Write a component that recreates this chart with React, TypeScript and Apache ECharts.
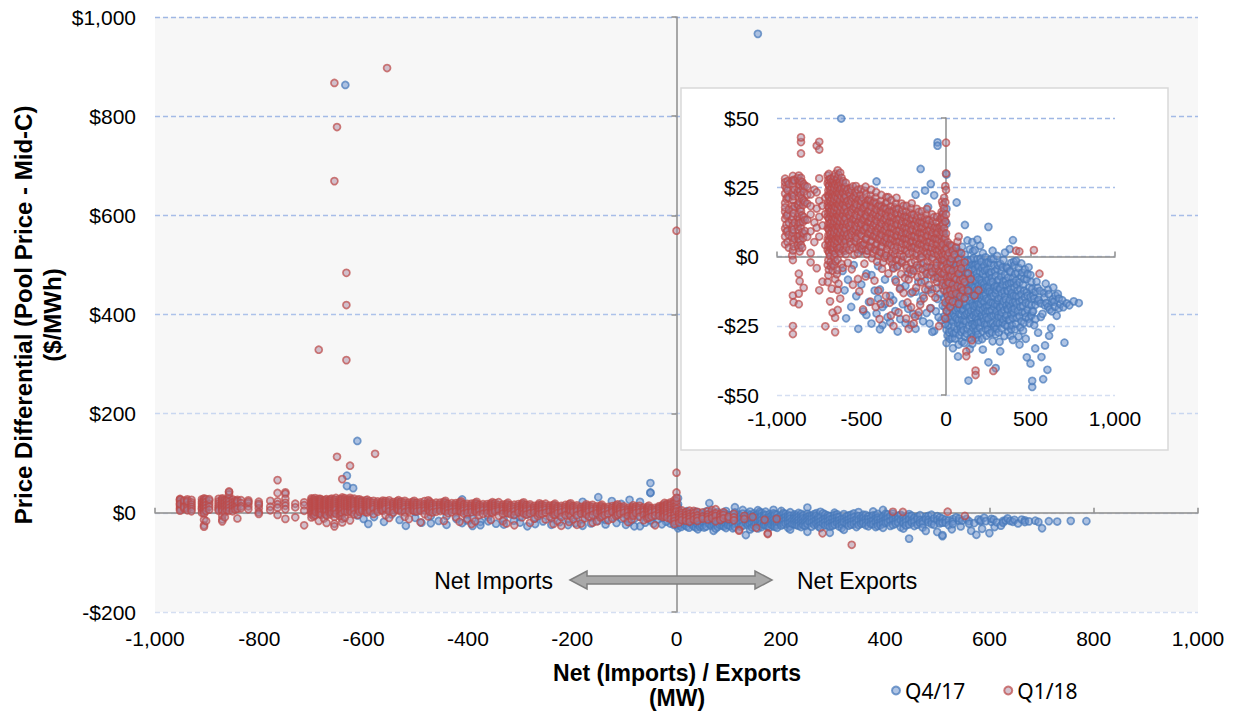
import React, { useEffect, useRef } from "react";
import * as echarts from "echarts";

// ---- Axis ticks ----
const mainXTicks = { min: -1000, max: 1000, interval: 200 };
const mainYTicks = { min: -200, max: 1000, interval: 200 };
const insetXTicks = { min: -1000, max: 1000, interval: 500 };
const insetYTicks = { min: -50, max: 50, interval: 25 };

const seriesNames = ["Q4/17", "Q1/18"];

// ---- Q4/17 (blue) : columns of [net MW, list of price differentials] ----
const q417Cols: [number, number[]][] = [
  [3, [-1.5, -8.2, -13.6, -19.9, -26.4, -31.2, 4.3, 11.8, 29.6, 17.2]],
  [7, [-5.8, -11.4, -17.2, -23.6]],
  [9, [-4.1, -10.7, -22.3, -28.5]],
  [16, [-2.7, -7.4, -15.8, -24.9, 0.8]],
  [20, [-9.4, -20.6, -27.4, 3.4]],
  [24, [-5.6, -12.1, -18.3, -29.8, -1.2, 153]],
  [29, [-15.2, -22.7, -8.7]],
  [33, [-3.3, -9.7, -16.5, -21.8, -26.9]],
  [37, [-12.6, -19.1, -29.4, 2.3]],
  [41, [0.4, -6.8, -13.2, -23.6, -33.1]],
  [45, [-3.8, -14.9, -20.8, -27.8]],
  [49, [-2.2, -10.4, -17.7, -25.3]],
  [53, [-8.9, -16.1, -21.7, -29.6]],
  [57, [2.9, -4.8, -12.9, -19.4, -27.6]],
  [63, [19.5, -8.1, -15.3, -22.4]],
  [67, [-3.1, -13.4, -26.3, 1.8]],
  [71, [-1.8, -6.3, -11.7, -18.8, -24.2, -36.1]],
  [75, [-9.9, -16.4, -22.9, -31.8]],
  [79, [1.6, -9.2, -14.6, -20.7, -28.3]],
  [83, [-5.7, -12.8, -18.6, -24.7]],
  [88, [-3.9, -7.7, -13.1, -17.5, -25.8]],
  [91, [-0.6, -9.1, -15.1, -21.2, -27.3]],
  [95, [3.5, -2.4, -10.9, -16.2, -22.9, -30.7]],
  [99, [-6.3, -13.8, -19.8, -24.9]],
  [103, [-5.1, -12.4, -19.1, -26.6]],
  [108, [-3.4, -10.6, -17.3, -23.1, -31.2]],
  [112, [11.4, 0.7, -7.9, -14.8, -21.3, -28.9]],
  [119, [-3.6, -9.8, -17.2, -23.5]],
  [123, [-5.9, -12.1, -20.6, -27.9]],
  [127, [5.8, -1.4, -11.6, -18.4, -26.1]],
  [133, [-6.2, -13.7, -20.1, -44.8]],
  [137, [-1.8, -8.3, -18.3, -24.9]],
  [141, [2.6, -4.3, -9.4, -15.9, -22.7, -33.4]],
  [145, [-12.3, -21.1, -29.6]],
  [149, [-1.1, -7.2, -12.8, -19.6, -27.3]],
  [152, [-4.8, -9.8, -15.1, -22.1]],
  [156, [5.2, -3.1, -10.2, -16.8, -24.4, -31.5, 966]],
  [160, [-11.1, -17.7, -25.8, 1.9]],
  [163, [-0.6, -6.9, -14.1, -21.2, -28.7]],
  [168, [-3.3, -8.1, -19.4, -24.3]],
  [171, [2.3, -4.6, -11.3, -17.9, -25.1]],
  [175, [-13.6, -20.7, -27.1]],
  [178, [-2.8, -8.8, -15.4, -22.1, -29.4]],
  [182, [-6.1, -11.9, -17.4, -23.9]],
  [186, [6.1, -0.9, -7.5, -13.9, -20.4, -26.8]],
  [189, [-2.9, -15.9, -22.8, -28.2]],
  [193, [-3.7, -10.6, -17.1, -23.8, -30.2]],
  [197, [-8.3, -13.8, -19.6]],
  [201, [3.9, -5.4, -12.2, -18.6, -25.6]],
  [205, [-0.7, -11.3, -17.1, -23.7]],
  [209, [-1.9, -8.6, -14.9, -21.7]],
  [214, [-4.2, -9.6, -15.8, -21.2, -29.8]],
  [218, [1.2, -6.1, -11.9, -19.3, -27.1, -33.6]],
  [222, [-14.3, -22.1]],
  [226, [-3.4, -9.9, -16.4, -23.2]],
  [230, [-5.1, -11.2, -18.4, -24.6]],
  [234, [-0.3, -7.3, -13.8, -20.6, -26.2]],
  [239, [-2.1, -8.7, -15.2, -21.9, -28.6]],
  [243, [-4.9, -11.1, -18.1, -24.7]],
  [247, [-12.4, -19.6, -26.4]],
  [251, [10.7, -2.1, -8.4, -15.6, -22.6, -38.2]],
  [255, [-5.8, -11.3, -17.8]],
  [259, [-6.4, -12.7, -19.8, -27.8]],
  [264, [-2.4, -9.4, -16.6, -24.2]],
  [268, [-0.8, -5.7, -14.3, -21.4]],
  [272, [-7.8, -13.1, -19.4, -27.3]],
  [276, [2.1, -9.1, -16.9, -24.1, -30.6]],
  [281, [-0.9, -14.2, -21.3]],
  [285, [-3.2, -11.4, -18.2, -25.4]],
  [290, [-5.3, -10.7, -17.2, -24.8]],
  [294, [-7.1, -13.4, -20.9, -28.1, -40.3]],
  [299, [-12.1, -19.8, -26.1]],
  [303, [0.2, -4.4, -10.8, -17.4, -23.9]],
  [308, [-3.1, -8.7, -15.9, -21.2]],
  [312, [-8.3, -15.1, -21.9, -27.4]],
  [317, [-11.6, -18.3, -24.2, -30.8]],
  [321, [-2.6, -11.8, -18.7, -34.2]],
  [326, [-7.2, -14.9, -21.7]],
  [330, [-5.3, -13.3, -20.2, -25.9]],
  [335, [-3.9, -10.2, -17.8, -23.8]],
  [340, [-1.3, -8.9, -16.1, -22.8]],
  [345, [-12.6, -19.3, -28.7]],
  [349, [1.4, -6.6, -14.4, -24.6]],
  [354, [-8.8, -15.6, -22.1]],
  [358, [-3.8, -10.3, -17.6, -21.1]],
  [363, [-4.2, -12.4, -18.9, -25.2]],
  [368, [-7.6, -12.6, -19.2, -27.2]],
  [373, [-9.8, -16.8, -22.7]],
  [377, [2.7, -5.2, -15.7, -23.1]],
  [382, [-5.6, -11.6, -18.1, -28.6]],
  [386, [-2.3, -9.6, -13.9, -20.8, -26.3]],
  [391, [-13.1, -19.4, -24.8]],
  [396, [5.9, -7.8, -16.6, -22.2, -30.1]],
  [401, [-1.9, -9.4, -14.2, -20.3]],
  [405, [-3.1, -11.2, -18.9]],
  [410, [-6.2, -16.3, -26.3]],
  [415, [-1.6, -8.7, -14.2, -24.3]],
  [420, [-10.3, -17.1, -22.1]],
  [425, [-5.9, -12.3, -19.7]],
  [430, [-4.1, -14.6, -28.9]],
  [435, [-9.3, -16.3, -21.6, -31.8]],
  [440, [-11.8, -18.2, -25.6]],
  [446, [-2.5, -7.2, -13.6, -23.4, -52]],
  [451, [-5.8, -15.8, -20.1]],
  [456, [-10.1, -17.8, -26.7]],
  [462, [-8.1, -12.4, -23.9]],
  [467, [-4.7, -14.7, -20.3]],
  [472, [-16.8, -21.9, -29.7]],
  [478, [-8.2, -12.9, -36.4]],
  [483, [-6.3, -14.1, -19.1]],
  [489, [-3.9, -17.3, -22.5]],
  [494, [-11.2, -24.1]],
  [500, [-6.7, -14.5, -38.6]],
  [505, [-9.2, -17.6, -21.4]],
  [510, [-11.7, -19.9, -47.1, -44.9]],
  [516, [-14.2, -19.8]],
  [522, [-15.2, -24.8]],
  [528, [-33.2]],
  [530, [-12.7, -17.4, -22.6]],
  [536, [-9.1]],
  [542, [-16.1, -11.3]],
  [545, [-27.5]],
  [548, [-15.6]],
  [556, [-12.4]],
  [561, [-16.9, -21.8]],
  [565, [-36.3]],
  [571, [-20.7]],
  [575, [-44.3]],
  [579, [-13.2]],
  [583, [-17.6, -14.8]],
  [586, [-32.1]],
  [590, [-9.8]],
  [593, [-16.8]],
  [600, [-40.9]],
  [604, [-18.2, -12.1]],
  [608, [-13.6]],
  [610, [-28.6]],
  [614, [-19.2]],
  [622, [-25.8]],
  [626, [-16.4, -19.8]],
  [631, [-15.4]],
  [635, [-11.2]],
  [640, [-16.3]],
  [645, [-18.1]],
  [648, [-14.1]],
  [655, [-21.4]],
  [662, [-13.5]],
  [668, [-15.2, -18.7]],
  [676, [-17.2]],
  [688, [-15.8]],
  [694, [-18.3]],
  [701, [-31.1]],
  [714, [-16.9]],
  [730, [-17.6]],
  [756, [-16.2]],
  [786, [-16.8]],
  [-5, [4.1, -9.6, -18.3, -24.4, 12.7]],
  [-12, [-2.2, -14.9, -21.7, 8.4]],
  [-20, [15.2, -6.3, -17.8]],
  [-28, [-10.4, -23.1, 3.3]],
  [-36, [-1.9, -13.6, 9.8]],
  [-44, [-21.9, -7.1]],
  [-50, [41.2, 60, 40, -15.3]],
  [-60, [-4.2, -19.8, 6.4]],
  [-70, [22.1, -7.3, -26.9]],
  [-81, [-11.8, -27.2]],
  [-90, [26.2, -18.6, 1.7]],
  [-97, [-3.9, -24.2]],
  [-106, [-12.1, 17.9]],
  [-115, [-20.4, -5.6]],
  [-124, [-8.8, 23.8]],
  [-136, [-23.4, -14.2]],
  [-150, [31.6, -16.1, -2.8]],
  [-164, [-9.2, -21.3]],
  [-180, [22.3, -26.1, -12.7]],
  [-194, [-20.8, -4.6]],
  [-208, [-13.3, -24.7]],
  [-224, [-6.1, -18.9]],
  [-240, [-24.1, -10.6]],
  [-256, [-17.2, 8.3]],
  [-271, [-11.4, -22.6]],
  [-286, [-27.1, -3.2]],
  [-300, [-19.7, -8.4]],
  [-312, [-4.1, -15.8]],
  [-331, [-14.2, -23.7]],
  [-346, [-21.9, 5.2]],
  [-361, [-8.3, -17.1]],
  [-376, [-18.2, -24.8]],
  [-391, [-26.3, -11.9]],
  [-402, [-3.4, -15.2]],
  [-411, [27.1, -20.6]],
  [-422, [-12.3]],
  [-441, [-24.2, -6.7]],
  [-456, [-16.4]],
  [-471, [-6.2, -21.1]],
  [-489, [-19.8]],
  [-501, [-10.1, 2.2]],
  [-519, [-26.1]],
  [-531, [-14.3]],
  [-546, [-3.1]],
  [-561, [-18.2]],
  [-580, [-8.4]],
  [-591, [-22.3]],
  [-600, [-12.2, 8.1]],
  [-612, [-5.2, 145]],
  [-620, [49.8]],
  [-632, [75, 54]],
  [-635, [863]],
];

// ---- Q1/18 (red) ----
const q118Cols: [number, number[]][] = [
  [-952, [28.1, 25.4, 22.7, 19.3, 16.2, 13.6, 10.1, 7.2, 4.4, 26.8, 17.7]],
  [-944, [20.8, 14.7, 8.9, 24.6, 11.5]],
  [-938, [27.2, 21.4, 15.1, 9.3, 5.2, 23.9]],
  [-930, [26.2, 21.1, 16.9, 12.2, 7.8, 3.2]],
  [-910, [27.3, 22.3, 18.3, 13.2, 9.7, 6.8, 0.4]],
  [-906, [29.1, 26.3, 23.2, 20.4, 17.1, 14.3, 11.2, 8.4, 5.1, 2.2, -1.3, -14.1, -25.1, -28]],
  [-902, [27.7, 21.8, 15.6, 9.7, 3.6, -16.5]],
  [-896, [24.2, 18.1, 12.3, 6.4, 27.4]],
  [-878, [28.3, 23.2, 18.8, 14.2, 10.8, 7.3, 4.2]],
  [-871, [29.2, 27.1, 24.3, 21.2, 18.4, 15.3, 12.1, 9.4, 6.2, 3.1, -6.2, -13.4, -17.2]],
  [-866, [25.8, 19.7, 13.6, 7.5, 1.8, -8.9]],
  [-862, [27.2, 23.7, 17.2, 12.2, 5.8]],
  [-858, [28.4, 22.2, 16.3, 10.2, 4.1, 41.3, 37.2, 43]],
  [-851, [26.9, 20.9, 14.8, 8.7, 3.2]],
  [-846, [24.7, 18.6, 12.5, 6.6]],
  [-842, [26.1, 20.3, 14.2, 8.3, -11.3, 23.4]],
  [-835, [25.4, 19.6, 13.2, 9.2]],
  [-821, [25.2, 19.1, 13.3, 7.1, 22.3]],
  [-801, [22.4, 15.2, 9.1, 1.3, -2.1, 18.2]],
  [-779, [24.1, 12.3, 5.2]],
  [-765, [23.2, 17.3, 10.4, -4.2, 66, 40]],
  [-750, [41.4, 38.6, 28.2, 20.1, 14.3, 7.2, -12.2]],
  [-731, [18.3, 11.2, -9.1]],
  [-714, [21.2, 15.3, 4.1, -25.2]],
  [-700, [29.2, 26.4, 22.1, 18.3, 14.4, 10.2, 6.1, 2.3, -3.1, -9.2]],
  [-696, [27.6, 23.8, 19.8, 15.9, 11.8, 7.7, 3.9, -1.4, -6.8]],
  [-693, [29.8, 25.7, 21.9, 17.6, 13.7, 9.8, 5.7, 1.6, -4.8]],
  [-691, [25.5, 21.6, 17.7, 13.6, 9.5, 5.6, 1.4]],
  [-686, [28.1, 24.3, 20.2, 16.4, 12.1, 8.3, 4.2, 0.2, -16.2, 329]],
  [-683, [27.9, 23.7, 19.8, 15.7, 11.8, 7.9, 3.8, -1.9]],
  [-681, [26.8, 22.7, 18.6, 14.5, 10.6, 6.7, 2.6, -3.6]],
  [-676, [24.8, 20.9, 16.8, 12.7, 8.8, 4.9, -11.6]],
  [-673, [26.1, 22.1, 18.2, 14.1, 10.2, 6.1, 2.2, -2.8]],
  [-671, [27.4, 23.1, 19.2, 15.4, 11.3, 7.1, 3.2, -5.1, -20.3]],
  [-666, [25.9, 21.8, 17.9, 13.8, 9.7, 5.8, 1.9]],
  [-663, [27.1, 23.2, 19.1, 15.2, 11.1, 7.2, 3.1, -3.4]],
  [-661, [28.8, 24.6, 20.6, 16.6, 12.6, 8.6, 4.6, -0.4]],
  [-656, [26.2, 22.4, 18.1, 14.2, 10.4, 6.3, 1.1, -8.2, -22.1, -27.3, 867, 669]],
  [-653, [29.9, 25.8, 21.7, 17.8, 13.7, 9.8, 5.9, -1.8]],
  [-651, [778, 113]],
  [-646, [27.7, 23.6, 19.6, 15.6, 11.6, 7.6, 3.6, -6.4]],
  [-643, [26.5, 22.6, 18.7, 14.6, 10.7, 6.6, 2.6, -4.9]],
  [-641, [31.1, 28.3, 25.2, 21.1, 17.4, 13.2, 9.1, 5.4, -1.2, -12.1, -19.3, 68]],
  [-636, [29.5, 25.8, 22.9, 18.8, 14.7, 10.8, 6.9, 2.8, -9.8]],
  [-633, [484, 419, 308]],
  [-631, [26.7, 22.6, 18.6, 14.5, 10.6, 6.5, 1.9]],
  [-626, [30.2, 27.1, 24.3, 20.2, 16.1, 12.4, 8.2, 3.3, -15.2, 95]],
  [-623, [25.9, 22.1, 18.1, 14.1, 10.1, 6.2, 1.2]],
  [-618, [28.4, 24.6, 21.6, 17.7, 13.6, 9.5, 5.6, -2.7]],
  [-611, [26.4, 23.2, 19.1, 15.3, 11.2, 7.4, -4.1]],
  [-608, [27.2, 22.7, 18.7, 14.7, 10.6, 6.6, 2.3]],
  [-603, [24.6, 20.8, 16.6, 12.6, 8.5, 4.6]],
  [-596, [25.1, 22.3, 18.4, 14.1, 10.3, 6.2, 2.1]],
  [-593, [26.6, 21.6, 17.7, 13.6, 9.7, 5.4, 0.8]],
  [-588, [23.6, 19.6, 15.6, 11.5, 7.4, 3.5]],
  [-581, [24.3, 20.1, 16.2, 12.3, 8.1, -2.3]],
  [-578, [119]],
  [-573, [22.9, 18.9, 14.9, 10.9, 6.8, 2.4]],
  [-566, [22.2, 18.3, 14.4, 10.1, 5.3]],
  [-563, [24.6, 20.7, 16.7, 12.5, 8.6, 4.4]],
  [-558, [23.8, 19.8, 15.8, 11.7, 7.7, -4.6]],
  [-555, [897]],
  [-551, [25.3, 21.1, 17.2, 13.4, 9.2, 3.1, -10.2]],
  [-543, [21.8, 17.8, 13.7, 9.8, 5.7, 0.6]],
  [-536, [23.4, 19.2, 15.1, 11.3, 7.2]],
  [-533, [25.4, 21.3, 17.4, 13.3, 9.5, 5.3]],
  [-528, [22.8, 18.7, 14.7, 10.7, 6.6, 2.7]],
  [-521, [24.1, 20.4, 16.3, 12.2, 8.4, 1.2, -8.1]],
  [-513, [20.7, 16.7, 12.7, 8.7, 3.6, -12.6]],
  [-506, [22.3, 18.1, 14.3, 10.2, 5.1]],
  [-503, [24.3, 20.2, 16.2, 12.1, 8.1, 3.9]],
  [-498, [19.8, 15.7, 11.6, 7.6, 2.8]],
  [-491, [21.1, 17.3, 13.2, 9.4, 4.2, -19.1]],
  [-483, [23.7, 17.7, 13.6, 9.6, 4.8, -2.6]],
  [-476, [25.2, 19.4, 15.2, 11.1, 6.3, -7.2]],
  [-473, [22.4, 18.3, 14.4, 10.3, 6.2, 2.2]],
  [-468, [18.7, 14.7, 10.6, 6.6, 0.8]],
  [-461, [20.3, 16.1, 12.4, 8.2, 2.1]],
  [-453, [20.6, 16.6, 12.6, 8.7, 3.7]],
  [-446, [22.1, 18.2, 14.1, 10.3, 5.2, -16.3]],
  [-443, [24.1, 20.1, 16.1, 12.2, 8.2, 3.3]],
  [-438, [17.8, 13.7, 9.7, 5.6, -0.6]],
  [-431, [19.4, 15.2, 11.1, 7.3, 1.2]],
  [-423, [19.7, 15.7, 11.8, 7.6, 2.6, -8.7]],
  [-416, [21.3, 17.1, 13.4, 9.2, 4.1, -18.2]],
  [-413, [23.2, 19.2, 15.1, 11.1, 7.1, 2.2]],
  [-408, [16.8, 12.7, 8.8, 4.6, -1.8]],
  [-401, [18.2, 14.3, 10.1, 6.2, 0.3, -12.4]],
  [-393, [18.6, 14.7, 10.7, 6.7, 1.7, -22.6]],
  [-386, [20.1, 16.4, 12.2, 8.1, 3.4, -17.1]],
  [-383, [22.2, 18.1, 14.1, 10.1, 6.1, 1.4]],
  [-378, [15.8, 11.7, 7.7, 3.6, -4.4]],
  [-371, [17.3, 13.1, 9.3, 5.2, -2.1]],
  [-363, [17.6, 13.6, 9.6, 5.7, -0.4]],
  [-356, [19.2, 15.4, 11.2, 7.1, 1.3, -14.2]],
  [-353, [21.4, 17.2, 13.3, 9.2, 5.1, 0.4]],
  [-348, [19.7, 14.6, 10.6, 6.6, 2.6]],
  [-341, [21.4, 16.2, 12.1, 8.3, 4.2, -6.1]],
  [-333, [16.6, 12.6, 8.6, 4.7, -1.6, -16.7]],
  [-326, [18.1, 14.2, 10.4, 6.1, 0.2, -21.3]],
  [-323, [20.3, 16.2, 12.1, 8.2, 4.1, -0.8]],
  [-318, [14.8, 10.7, 6.6, 1.7, -2.8]],
  [-311, [16.3, 12.2, 8.1, 3.2, -4.3, -25.1]],
  [-303, [17.7, 13.6, 9.7, 5.6, 0.7]],
  [-296, [19.1, 15.3, 11.4, 7.2, 2.3, -9.1]],
  [-293, [21.2, 17.1, 13.2, 9.1, 5.2, -1.2]],
  [-288, [15.6, 11.7, 7.6, 3.7, -3.6]],
  [-281, [17.2, 13.4, 9.1, 5.3, -1.1, -20.2]],
  [-273, [13.9, 9.7, 5.6, 0.6, -11.7]],
  [-266, [15.4, 11.1, 7.3, 2.2, -6.3]],
  [-263, [19.1, 15.2, 11.2, 7.1, 3.2, -2.2]],
  [-258, [16.7, 12.6, 8.6, 4.8, -1.6]],
  [-251, [18.3, 14.1, 10.2, 6.4, 0.1, -13.2]],
  [-243, [14.6, 10.7, 6.6, 2.6, -7.8]],
  [-236, [16.2, 12.3, 8.2, 4.1, -3.2, -22.4]],
  [-233, [18.3, 14.3, 10.1, 6.2, 2.1, -4.1]],
  [-228, [12.7, 8.7, 4.6, -0.6, -16.6]],
  [-221, [14.1, 10.3, 6.2, 1.1, -8.3, -26.1]],
  [-213, [15.8, 11.7, 7.7, 3.6, -4.8]],
  [-206, [17.4, 13.2, 9.3, 5.1, -2.2, -18.3]],
  [-203, [19.2, 15.1, 11.2, 7.2, 3.1, -6.4]],
  [-198, [13.7, 9.8, 5.6, 1.6, -12.8]],
  [-191, [15.1, 11.4, 7.2, 3.3, -5.1, -24.2]],
  [-183, [11.8, 7.6, 3.7, -1.7, -21.7]],
  [-176, [13.3, 9.2, 5.4, 0.3, -11.2]],
  [-173, [17.2, 13.1, 9.2, 5.1, 1.1, -3.2]],
  [-168, [14.6, 10.7, 6.8, 2.7, -7.4]],
  [-161, [16.1, 12.2, 8.4, 4.3, -4.2, -20.1]],
  [-153, [12.8, 8.6, 4.7, -0.6, -17.4]],
  [-146, [14.4, 10.1, 6.3, 1.2, -9.3]],
  [-143, [16.3, 12.3, 8.2, 4.1, -0.2, -6.8]],
  [-138, [10.7, 6.7, 2.6, -4.6]],
  [-131, [12.2, 8.3, 4.2, -2.3, -15.1]],
  [-123, [13.7, 9.7, 5.6, 1.6, -11.8]],
  [-116, [15.2, 11.3, 7.1, 3.2, -6.2]],
  [-113, [17.1, 13.2, 9.1, 5.2, 1.2, -3.7]],
  [-108, [11.6, 7.6, 3.7, -1.7]],
  [-101, [13.1, 9.4, 5.2, 0.1, -10.3]],
  [-93, [9.8, 5.7, 1.6, -6.6, -18.7]],
  [-86, [11.3, 7.2, 3.1, -4.2, -13.3]],
  [-83, [15.2, 11.1, 7.1, 3.2, -1.1, -5.6]],
  [-78, [12.7, 8.6, 4.7, -0.4]],
  [-71, [14.2, 10.1, 6.4, 1.3, -8.1]],
  [-63, [10.7, 6.6, 2.7, -4.3, -14.8]],
  [-56, [12.4, 8.2, 4.1, -2.2, -11.4]],
  [-53, [14.3, 10.2, 6.2, 2.1, -3.3, -9.2]],
  [-48, [8.7, 4.6, 0.6, -7.6]],
  [-41, [10.2, 6.1, 2.3, -5.2, -25.1]],
  [-33, [13.6, 10.8, 7.6, 3.6, -0.6, -5.7]],
  [-26, [16.1, 13.2, 9.1, 5.3, 1.2, -3.1, -8.2]],
  [-23, [19.8, 14.2, 11.1, 7.3, 3.3, -1.2, -6.3]],
  [-18, [18.7, 15.6, 11.7, 8.6, 4.4, 0.3, -3.7, -9.6]],
  [-11, [21.2, 17.3, 14.1, 10.2, 6.3, 2.1, -1.2, -6.1, -12.3]],
  [-4, [25.4, 19.6, 12.6, 6.7, 0.8, -4.6, -10.7, -16.6, -22.4]],
  [0, [41.1, 569, 81, 15.2, 8.3, 3.1, 24, 30]],
  [5, [2.7, -2.6, -7.7, -12.6, -19.7]],
  [10, [5.1, 0.2, -4.1, -9.2, -14.3]],
  [18, [1.3, -4.8, -9.6, -15.7]],
  [25, [4.2, -2.1, -7.3, -12.2, -18.1]],
  [33, [3.8, -0.7, -6.8, -13.6]],
  [40, [2.1, -5.2, -10.1, -16.3]],
  [50, [0.7, -7.4, -11.7]],
  [60, [3.3, -3.2, -8.1, -13.4]],
  [68, [5.4, -4.7, -10.6]],
  [75, [7.2, -1.1, -6.2, -17.1]],
  [84, [-2.7, -8.6, -14.3]],
  [90, [1.2, -4.3, -11.1]],
  [100, [-12.2, -8.1]],
  [110, [-2.1, -9.2, -15.1]],
  [120, [-34.3, -36]],
  [130, [-6.1, -12.3]],
  [146, [-8.2]],
  [153, [-30.2]],
  [169, [-14.1]],
  [175, [-41.2, -42.8]],
  [192, [-12.2]],
  [280, [-41.3]],
  [336, [-64.5]],
  [415, [2.1]],
  [434, [1.8]],
  [520, [2.3]],
  [553, [-6.2]],
];

const flatten = (cols: [number, number[]][]) => {
  const out: [number, number][] = [];
  cols.forEach(([x, ys]) => ys.forEach((y) => out.push([x, y])));
  return out;
};

const q417 = flatten(q417Cols);
const q118 = flatten(q118Cols);

const blueStyle = {
  color: "rgba(112,150,206,0.7)",
  borderColor: "rgba(70,120,186,0.9)",
  borderWidth: 1.7,
};
const redStyle = {
  color: "rgba(168,130,155,0.6)",
  borderColor: "rgba(188,74,72,0.9)",
  borderWidth: 1.7,
};

const fmtNum = (v: number) => v.toLocaleString("en-US");
const fmtDollar = (v: number) =>
  (v < 0 ? "-" : "") + "$" + Math.abs(v).toLocaleString("en-US");

const FONT = "'Liberation Sans', Arial, sans-serif";
const AXIS_GRAY = "#8c8c8c";

export default function App() {
  const ref = useRef<HTMLDivElement>(null);

  useEffect(() => {
    document.body.style.margin = "0";
    const chart = echarts.init(ref.current!, null, { renderer: "svg" });

    const labelAxisX = (grid: number, t: any, fontSize: number, margin: number, z: number) => ({
      type: "value",
      gridIndex: grid,
      min: t.min,
      max: t.max,
      interval: t.interval,
      position: "bottom",
      z,
      axisLine: { show: false, onZero: false },
      axisTick: { show: false },
      splitLine: { show: false },
      axisLabel: {
        formatter: fmtNum,
        fontSize,
        fontFamily: FONT,
        color: "#000",
        margin,
        showMinLabel: true,
        showMaxLabel: true,
      },
    });
    const zeroAxisX = (grid: number, t: any, z: number) => ({
      type: "value",
      gridIndex: grid,
      min: t.min,
      max: t.max,
      interval: t.interval,
      z,
      axisLine: { show: true, onZero: true, lineStyle: { color: AXIS_GRAY, width: 1.5 } },
      axisTick: { show: true, length: 5, lineStyle: { color: AXIS_GRAY, width: 1.5 } },
      axisLabel: { show: false },
      splitLine: { show: false },
    });
    const labelAxisY = (grid: number, t: any, fontSize: number, margin: number, colors: string[], z: number) => ({
      type: "value",
      gridIndex: grid,
      min: t.min,
      max: t.max,
      interval: t.interval,
      position: "left",
      z,
      axisLine: { show: false, onZero: false },
      axisTick: { show: false },
      splitLine: {
        show: true,
        lineStyle: { color: colors, type: [5, 3], width: 1.3 },
      },
      axisLabel: {
        formatter: fmtDollar,
        fontSize,
        fontFamily: FONT,
        color: "#000",
        margin,
      },
    });
    const zeroAxisY = (grid: number, t: any, z: number) => ({
      type: "value",
      gridIndex: grid,
      min: t.min,
      max: t.max,
      interval: t.interval,
      position: "left",
      z,
      axisLine: { show: true, onZero: true, lineStyle: { color: AXIS_GRAY, width: 1.5 } },
      axisTick: { show: true, length: 5, lineStyle: { color: AXIS_GRAY, width: 1.5 } },
      axisLabel: { show: false },
      splitLine: { show: false },
    });

    const mainSplitColors = [
      "#d5dff2",
      "#d5dff2",
      "#c9d7f0",
      "#adc2ea",
      "#a7bde8",
      "#a3bae6",
      "#9fb7e4",
    ];
    const insetSplitColors = ["#d5dff2", "#d0dbf1", "#c0d0ee", "#a9bfe8", "#9fb7e4"];

    const option: any = {
      animation: false,
      backgroundColor: "#ffffff",
      grid: [
        {
          left: 155,
          top: 17,
          width: 1043,
          height: 595,
          show: true,
          backgroundColor: "#f7f7f7",
          borderWidth: 0,
          z: 0,
        },
        { left: 777, top: 118, width: 338, height: 277, show: false, z: 4 },
      ],
      xAxis: [
        labelAxisX(0, mainXTicks, 21, 16, 0),
        zeroAxisX(0, mainXTicks, 1),
        labelAxisX(1, insetXTicks, 21, 13, 4),
        zeroAxisX(1, insetXTicks, 4),
      ],
      yAxis: [
        labelAxisY(0, mainYTicks, 21, 19, mainSplitColors, 0),
        zeroAxisY(0, mainYTicks, 1),
        labelAxisY(1, insetYTicks, 21, 18, insetSplitColors, 4),
        zeroAxisY(1, insetYTicks, 4),
      ],
      legend: {
        data: seriesNames,
        left: 886,
        top: 675,
        icon: "circle",
        itemWidth: 8,
        itemHeight: 8,
        itemGap: 38,
        textStyle: { fontSize: 21, fontFamily: "'Noto Sans', sans-serif", color: "#000" },
      },
      series: [
        {
          name: seriesNames[0],
          type: "scatter",
          xAxisIndex: 0,
          yAxisIndex: 0,
          data: q417,
          symbol: "circle",
          symbolSize: 7,
          itemStyle: blueStyle,
          z: 2,
        },
        {
          name: seriesNames[1],
          type: "scatter",
          xAxisIndex: 0,
          yAxisIndex: 0,
          data: q118,
          symbol: "circle",
          symbolSize: 7,
          itemStyle: redStyle,
          z: 2,
        },
        {
          name: seriesNames[0],
          type: "scatter",
          xAxisIndex: 2,
          yAxisIndex: 2,
          data: q417,
          symbol: "circle",
          symbolSize: 7,
          itemStyle: blueStyle,
          clip: true,
          z: 6,
        },
        {
          name: seriesNames[1],
          type: "scatter",
          xAxisIndex: 2,
          yAxisIndex: 2,
          data: q118,
          symbol: "circle",
          symbolSize: 7,
          itemStyle: redStyle,
          clip: true,
          z: 6,
        },
      ],
      graphic: [
        {
          type: "rect",
          z: 3,
          shape: { x: 681, y: 88, width: 487, height: 362 },
          style: { fill: "#ffffff", stroke: "#d9d9d9", lineWidth: 1.5 },
        },
        {
          type: "polygon",
          z: 3,
          shape: {
            points: [
              [570, 580],
              [587, 571],
              [587, 576],
              [755, 576],
              [755, 571],
              [772, 580],
              [755, 589],
              [755, 584],
              [587, 584],
              [587, 589],
            ],
          },
          style: { fill: "#a9a9a9", stroke: "#7f7f7f", lineWidth: 1.5 },
        },
        {
          type: "text",
          z: 3,
          x: 553,
          y: 581,
          style: {
            text: "Net Imports",
            font: `23px ${FONT}`,
            fill: "#000",
            align: "right",
            verticalAlign: "middle",
          },
        },
        {
          type: "text",
          z: 3,
          x: 797,
          y: 581,
          style: {
            text: "Net Exports",
            font: `23px ${FONT}`,
            fill: "#000",
            align: "left",
            verticalAlign: "middle",
          },
        },
        {
          type: "text",
          z: 3,
          x: 677,
          y: 673,
          style: {
            text: "Net (Imports) / Exports",
            font: `bold 23px ${FONT}`,
            fill: "#000",
            align: "center",
            verticalAlign: "middle",
          },
        },
        {
          type: "text",
          z: 3,
          x: 677,
          y: 698,
          style: {
            text: "(MW)",
            font: `bold 23px ${FONT}`,
            fill: "#000",
            align: "center",
            verticalAlign: "middle",
          },
        },
        {
          type: "text",
          z: 3,
          x: 23,
          y: 315,
          rotation: Math.PI / 2,
          style: {
            text: "Price Differential (Pool Price - Mid-C)",
            font: `bold 24px ${FONT}`,
            fill: "#000",
            align: "center",
            verticalAlign: "middle",
          },
        },
        {
          type: "text",
          z: 3,
          x: 52,
          y: 315,
          rotation: Math.PI / 2,
          style: {
            text: "($/MWh)",
            font: `bold 24px ${FONT}`,
            fill: "#000",
            align: "center",
            verticalAlign: "middle",
          },
        },
      ],
    };

    chart.setOption(option);
    return () => chart.dispose();
  }, []);

  return (
    <div
      ref={ref}
      style={{ position: "absolute", left: 0, top: 0, width: 1238, height: 714 }}
    />
  );
}
